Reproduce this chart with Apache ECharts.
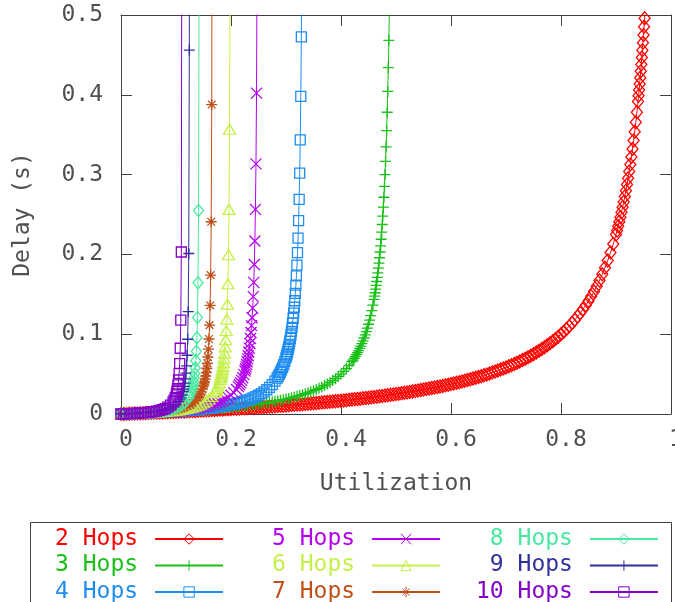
<!DOCTYPE html>
<html>
<head>
<meta charset="utf-8">
<script src="https://cdn.jsdelivr.net/npm/echarts@6/dist/echarts.min.js"></script>
<style>
html,body{margin:0;padding:0;background:#fff;}
#chart{width:675px;height:602px;}
</style>
</head>
<body>
<div id="chart"></div>
<script>
// [utilization, delay (s)]
const hops2 = [[0,0],[0.005,0.00013],[0.01,0.00025],[0.015,0.00038],[0.02,0.00051],[0.025,0.00064],[0.03,0.00077],[0.035,0.00091],[0.04,0.00104],[0.045,0.00118],[0.05,0.00132],[0.055,0.00146],[0.06,0.0016],[0.065,0.00174],[0.07,0.00188],[0.075,0.00203],[0.08,0.00217],[0.085,0.00232],[0.09,0.00247],[0.095,0.00262],[0.1,0.00278],[0.105,0.00293],[0.11,0.00309],[0.115,0.00325],[0.12,0.00341],[0.125,0.00357],[0.13,0.00374],[0.135,0.0039],[0.14,0.00407],[0.145,0.00424],[0.15,0.00441],[0.155,0.00459],[0.16,0.00476],[0.165,0.00494],[0.17,0.00512],[0.175,0.0053],[0.18,0.00549],[0.185,0.00568],[0.19,0.00586],[0.195,0.00606],[0.2,0.00625],[0.205,0.00645],[0.21,0.00665],[0.215,0.00685],[0.22,0.00705],[0.225,0.00726],[0.23,0.00747],[0.235,0.00768],[0.24,0.00789],[0.245,0.00811],[0.25,0.00833],[0.255,0.00856],[0.26,0.00878],[0.265,0.00901],[0.27,0.00925],[0.275,0.00948],[0.28,0.00972],[0.285,0.00997],[0.29,0.01021],[0.295,0.01046],[0.3,0.01071],[0.305,0.01097],[0.31,0.01123],[0.315,0.0115],[0.32,0.01176],[0.325,0.01204],[0.33,0.01231],[0.335,0.01259],[0.34,0.01288],[0.345,0.01317],[0.35,0.01346],[0.355,0.01376],[0.36,0.01406],[0.365,0.01437],[0.37,0.01468],[0.375,0.015],[0.38,0.01532],[0.385,0.01565],[0.39,0.01598],[0.395,0.01632],[0.4,0.01667],[0.405,0.01702],[0.41,0.01737],[0.415,0.01774],[0.42,0.0181],[0.425,0.01848],[0.43,0.01886],[0.435,0.01925],[0.44,0.01964],[0.445,0.02005],[0.45,0.02045],[0.455,0.02087],[0.46,0.0213],[0.465,0.02173],[0.47,0.02217],[0.475,0.02262],[0.48,0.02308],[0.485,0.02354],[0.49,0.02402],[0.495,0.02451],[0.5,0.025],[0.505,0.02551],[0.51,0.02602],[0.515,0.02655],[0.52,0.02708],[0.525,0.02763],[0.53,0.02819],[0.535,0.02876],[0.54,0.02935],[0.545,0.02995],[0.55,0.03056],[0.555,0.03118],[0.56,0.03182],[0.565,0.03247],[0.57,0.03314],[0.575,0.03382],[0.58,0.03452],[0.585,0.03524],[0.59,0.03598],[0.595,0.03673],[0.6,0.0375],[0.605,0.03829],[0.61,0.0391],[0.615,0.03994],[0.62,0.04079],[0.625,0.04167],[0.63,0.04257],[0.635,0.04349],[0.64,0.04444],[0.645,0.04542],[0.65,0.04643],[0.655,0.04746],[0.66,0.04853],[0.665,0.04963],[0.67,0.05076],[0.675,0.05192],[0.68,0.05313],[0.685,0.05437],[0.69,0.05565],[0.695,0.05697],[0.7,0.05833],[0.705,0.05975],[0.71,0.06121],[0.715,0.06272],[0.72,0.06429],[0.725,0.06591],[0.73,0.06759],[0.735,0.06934],[0.74,0.07115],[0.745,0.07304],[0.75,0.075],[0.755,0.07704],[0.76,0.07917],[0.765,0.08138],[0.77,0.0837],[0.775,0.08611],[0.78,0.08864],[0.785,0.09128],[0.79,0.09405],[0.795,0.09695],[0.8,0.1],[0.805,0.1032],[0.81,0.1066],[0.815,0.1101],[0.82,0.1139],[0.825,0.1179],[0.83,0.1221],[0.835,0.1265],[0.84,0.1313],[0.845,0.1363],[0.85,0.1417],[0.855,0.1474],[0.86,0.1536],[0.865,0.1602],[0.87,0.1673],[0.875,0.175],[0.88,0.1833],[0.885,0.1924],[0.89,0.2023],[0.895,0.2131],[0.9,0.225],[0.902,0.2301],[0.904,0.2354],[0.906,0.241],[0.908,0.2467],[0.91,0.2528],[0.912,0.2591],[0.914,0.2657],[0.916,0.2726],[0.918,0.2799],[0.92,0.2875],[0.922,0.2955],[0.924,0.3039],[0.926,0.3128],[0.928,0.3222],[0.93,0.3321],[0.932,0.3426],[0.934,0.3538],[0.936,0.3656],[0.938,0.3782],[0.94,0.3917],[0.941,0.3987],[0.942,0.406],[0.943,0.4136],[0.944,0.4214],[0.945,0.4295],[0.946,0.438],[0.947,0.4467],[0.948,0.4558],[0.949,0.4652],[0.95,0.475],[0.951,0.4852],[0.952,0.4958],[0.953,0.5069]];

const hops3 = [[0,0],[0.005,0.00013],[0.01,0.000255],[0.015,0.00039],[0.02,0.00052],[0.025,0.00066],[0.03,0.0008],[0.035,0.00094],[0.04,0.00109],[0.045,0.00124],[0.05,0.00139],[0.055,0.00155],[0.06,0.0017],[0.065,0.00187],[0.07,0.00203],[0.075,0.00221],[0.08,0.00238],[0.085,0.00256],[0.09,0.00274],[0.095,0.00293],[0.1,0.00313],[0.105,0.00332],[0.11,0.00353],[0.115,0.00373],[0.12,0.00395],[0.125,0.00417],[0.13,0.00439],[0.135,0.00462],[0.14,0.00486],[0.145,0.00511],[0.15,0.00536],[0.155,0.00562],[0.16,0.00588],[0.165,0.00616],[0.17,0.00644],[0.175,0.00673],[0.18,0.00703],[0.185,0.00734],[0.19,0.00766],[0.195,0.00799],[0.2,0.00833],[0.205,0.00869],[0.21,0.00905],[0.215,0.00943],[0.22,0.00982],[0.225,0.01023],[0.23,0.01065],[0.235,0.01109],[0.24,0.01154],[0.245,0.01201],[0.25,0.0125],[0.255,0.01301],[0.26,0.01354],[0.265,0.0141],[0.27,0.01467],[0.275,0.01528],[0.28,0.01591],[0.285,0.01657],[0.29,0.01726],[0.295,0.01799],[0.3,0.01875],[0.305,0.01955],[0.31,0.02039],[0.315,0.02128],[0.32,0.02222],[0.325,0.02321],[0.33,0.02426],[0.335,0.02538],[0.34,0.02656],[0.345,0.02782],[0.35,0.02917],[0.355,0.0306],[0.36,0.03214],[0.365,0.0338],[0.37,0.03558],[0.375,0.0375],[0.38,0.03958],[0.385,0.04185],[0.39,0.04432],[0.395,0.04702],[0.4,0.05],[0.405,0.05329],[0.41,0.05694],[0.415,0.06103],[0.42,0.06563],[0.422,0.06763],[0.424,0.06974],[0.426,0.07196],[0.428,0.07431],[0.43,0.07679],[0.432,0.07941],[0.434,0.0822],[0.436,0.08516],[0.438,0.08831],[0.44,0.09167],[0.442,0.09526],[0.444,0.09911],[0.446,0.10324],[0.448,0.10769],[0.45,0.1125],[0.452,0.11771],[0.454,0.12337],[0.456,0.12955],[0.458,0.13631],[0.46,0.14375],[0.461,0.14776],[0.462,0.15197],[0.463,0.15642],[0.464,0.16111],[0.465,0.16607],[0.466,0.17132],[0.467,0.17689],[0.468,0.18281],[0.469,0.18911],[0.47,0.19583],[0.471,0.20302],[0.472,0.21071],[0.473,0.21898],[0.474,0.22788],[0.475,0.2375],[0.476,0.24792],[0.477,0.25924],[0.478,0.27159],[0.479,0.28512],[0.48,0.3],[0.481,0.31645],[0.482,0.33472],[0.483,0.35515],[0.484,0.37813],[0.485,0.40417],[0.486,0.43393],[0.487,0.46827],[0.488,0.50833]];

const hops4 = [[0,0],[0.01,0.00024],[0.02,0.0005],[0.03,0.00077],[0.04,0.00107],[0.05,0.00138],[0.06,0.00172],[0.07,0.00208],[0.08,0.00247],[0.09,0.0029],[0.1,0.00336],[0.105,0.0036],[0.11,0.00386],[0.115,0.00413],[0.12,0.00441],[0.125,0.0047],[0.13,0.00501],[0.135,0.00533],[0.14,0.00567],[0.145,0.00603],[0.15,0.00641],[0.155,0.00681],[0.16,0.00723],[0.165,0.00768],[0.17,0.00815],[0.175,0.00866],[0.18,0.0092],[0.185,0.0098],[0.19,0.0104],[0.195,0.011],[0.2,0.01175],[0.205,0.0125],[0.21,0.0133],[0.215,0.0142],[0.22,0.0152],[0.225,0.0163],[0.23,0.0174],[0.235,0.0187],[0.24,0.0201],[0.245,0.0217],[0.25,0.0235],[0.255,0.0255],[0.26,0.0278],[0.265,0.0304],[0.27,0.0334],[0.275,0.0369],[0.28,0.0411],[0.2839,0.045],[0.2859,0.0472],[0.2879,0.0496],[0.2899,0.0523],[0.2919,0.0552],[0.2939,0.0584],[0.2959,0.0619],[0.2979,0.0659],[0.2999,0.0703],[0.3009,0.0727],[0.3019,0.0752],[0.3029,0.078],[0.3039,0.0809],[0.3049,0.084],[0.3059,0.0873],[0.3069,0.0909],[0.3079,0.0948],[0.3089,0.099],[0.3099,0.1036],[0.3109,0.1086],[0.3119,0.114],[0.3129,0.12],[0.3139,0.1265],[0.3149,0.1338],[0.3159,0.1419],[0.3169,0.1511],[0.3179,0.1614],[0.3189,0.1731],[0.3199,0.1865],[0.3209,0.2022],[0.3219,0.2205],[0.3229,0.2424],[0.3239,0.269],[0.3249,0.3018],[0.3259,0.3434],[0.3269,0.398],[0.3279,0.4727],[0.3289,0.5811]];

const hops5 = [[0,0],[0.01,0.00024],[0.02,0.00051],[0.03,0.0008],[0.04,0.00112],[0.05,0.00147],[0.06,0.00186],[0.07,0.00228],[0.08,0.00276],[0.09,0.0033],[0.1,0.00392],[0.105,0.00425],[0.11,0.00462],[0.115,0.005],[0.12,0.00542],[0.125,0.00588],[0.13,0.00636],[0.135,0.0069],[0.14,0.00748],[0.145,0.00811],[0.15,0.00881],[0.155,0.00959],[0.16,0.01044],[0.165,0.0114],[0.17,0.0125],[0.175,0.0137],[0.18,0.0151],[0.185,0.0167],[0.19,0.0186],[0.195,0.0208],[0.2,0.0235],[0.205,0.0268],[0.21,0.0308],[0.2134,0.0343],[0.2154,0.0366],[0.2174,0.0392],[0.2194,0.0421],[0.2214,0.0455],[0.2234,0.0493],[0.2254,0.0538],[0.2264,0.0564],[0.2274,0.0591],[0.2284,0.0621],[0.2294,0.0654],[0.2304,0.0691],[0.2314,0.0731],[0.2324,0.0776],[0.2334,0.0826],[0.2344,0.0883],[0.2354,0.0947],[0.2364,0.1021],[0.2374,0.1107],[0.2384,0.1207],[0.2394,0.1327],[0.2404,0.1471],[0.2414,0.1649],[0.2424,0.1874],[0.2434,0.2167],[0.2444,0.2564],[0.2454,0.3134],[0.2464,0.4021],[0.2474,0.559]];

const hops6 = [[0,0],[0.01,0.00025],[0.02,0.00052],[0.03,0.00083],[0.04,0.00118],[0.05,0.00157],[0.06,0.00201],[0.07,0.00253],[0.08,0.00313],[0.09,0.00385],[0.1,0.0047],[0.105,0.0052],[0.11,0.00574],[0.115,0.00636],[0.12,0.00705],[0.125,0.00783],[0.13,0.00873],[0.135,0.00976],[0.14,0.011],[0.145,0.0124],[0.15,0.0141],[0.155,0.0162],[0.16,0.0188],[0.165,0.0222],[0.1704,0.0271],[0.1724,0.0294],[0.1744,0.032],[0.1764,0.0351],[0.1784,0.0388],[0.1804,0.0433],[0.1814,0.0458],[0.1824,0.0487],[0.1834,0.0519],[0.1844,0.0556],[0.1854,0.0597],[0.1864,0.0644],[0.1874,0.0699],[0.1884,0.0763],[0.1894,0.084],[0.1904,0.0932],[0.1914,0.1046],[0.1924,0.119],[0.1934,0.1377],[0.1944,0.1632],[0.1954,0.1996],[0.1964,0.2564],[0.1974,0.3568],[0.1984,0.5828]];

const hops7 = [[0,0],[0.01,0.00025],[0.02,0.00053],[0.03,0.00086],[0.04,0.00124],[0.05,0.00168],[0.06,0.0022],[0.07,0.00284],[0.08,0.00362],[0.085,0.00408],[0.09,0.0046],[0.095,0.00519],[0.1,0.00588],[0.105,0.00667],[0.11,0.0076],[0.115,0.00872],[0.12,0.0101],[0.125,0.0118],[0.13,0.0139],[0.135,0.0167],[0.14,0.0206],[0.142,0.0225],[0.144,0.0249],[0.146,0.0277],[0.148,0.0311],[0.15,0.0353],[0.151,0.0378],[0.152,0.0406],[0.153,0.0438],[0.154,0.0476],[0.155,0.052],[0.156,0.0573],[0.157,0.0636],[0.158,0.0714],[0.159,0.0812],[0.16,0.094],[0.161,0.1113],[0.162,0.136],[0.163,0.1741],[0.164,0.2409],[0.165,0.3878],[0.166,0.9753]];

const hops8 = [[0,0],[0.01,0.00025],[0.02,0.00055],[0.03,0.00089],[0.04,0.00131],[0.05,0.00181],[0.06,0.00243],[0.07,0.00323],[0.075,0.00371],[0.08,0.00427],[0.085,0.00493],[0.09,0.00572],[0.095,0.00666],[0.1,0.00783],[0.105,0.0093],[0.11,0.0112],[0.115,0.0139],[0.12,0.0176],[0.123,0.0208],[0.125,0.0235],[0.127,0.0269],[0.129,0.0313],[0.13,0.0339],[0.131,0.0371],[0.132,0.0408],[0.133,0.0453],[0.134,0.0508],[0.135,0.0577],[0.136,0.0666],[0.137,0.0785],[0.138,0.0954],[0.139,0.121],[0.14,0.1645],[0.141,0.2549],[0.142,0.5562]];

const hops9 = [[0,0],[0.01,0.00026],[0.02,0.00056],[0.03,0.00093],[0.04,0.00138],[0.05,0.00196],[0.06,0.00271],[0.065,0.00318],[0.07,0.00374],[0.075,0.00441],[0.08,0.00522],[0.085,0.00624],[0.09,0.00755],[0.095,0.0093],[0.1,0.01175],[0.105,0.0154],[0.1072,0.0177],[0.1092,0.0203],[0.1112,0.0237],[0.1132,0.0282],[0.1142,0.0311],[0.1152,0.0345],[0.1162,0.0388],[0.1172,0.0441],[0.1182,0.0511],[0.1192,0.0604],[0.1202,0.0736],[0.1212,0.0937],[0.1222,0.1282],[0.1232,0.2011],[0.1242,0.456],[0.1247,1.221]];

const hops10 = [[0,0],[0.005,0.00012],[0.01,0.00026],[0.015,0.00041],[0.02,0.00057],[0.025,0.00076],[0.03,0.00097],[0.035,0.0012],[0.04,0.00147],[0.045,0.00178],[0.05,0.00214],[0.055,0.00256],[0.06,0.00307],[0.065,0.00368],[0.07,0.00445],[0.075,0.00542],[0.08,0.00671],[0.085,0.0085],[0.09,0.0111],[0.0947,0.0151],[0.0967,0.0175],[0.0987,0.0208],[0.1007,0.0253],[0.1017,0.0282],[0.1027,0.0319],[0.1037,0.0365],[0.1047,0.0426],[0.1057,0.051],[0.1067,0.0632],[0.1077,0.0824],[0.1087,0.1177],[0.1097,0.203],[0.1107,0.7031]];

const seriesNames = ['2 Hops','3 Hops','4 Hops','5 Hops','6 Hops','7 Hops','8 Hops','9 Hops','10 Hops'];
const seriesData = [hops2, hops3, hops4, hops5, hops6, hops7, hops8, hops9, hops10];
const xTicks = {min: 0, max: 1, interval: 0.2};
const yTicks = {min: 0, max: 0.5, interval: 0.1};

const colors = ['#ff0000','#18c018','#1e8cf0','#b400f0','#c4f048','#c05018','#48e8a0','#30309e','#8400c8'];
const PLUS = 'path://M0,5L10,5M5,0L5,10';
const CROSS = 'path://M0,0L10,10M10,0L0,10';
const STAR = 'path://M0,5L10,5M5,0L5,10M1.5,1.5L8.5,8.5M8.5,1.5L1.5,8.5';
const symbols = ['diamond', PLUS, 'rect', CROSS, 'triangle', STAR, 'diamond', PLUS, 'rect'];
const symbolSizes = [[11,13],[11,11],[10,10],[11,11],[12,10],[11,11],[10,12],[11,11],[10,10]];

const FONT = 'DejaVu Sans Mono';
const TXT = '#505050';
const AX = '#404040';

const series = seriesNames.map((name, i) => ({
  name: name,
  type: 'line',
  data: seriesData[i],
  symbol: symbols[i],
  symbolSize: symbolSizes[i],
  showSymbol: true,
  showAllSymbol: true,
  clip: true,
  lineStyle: {color: colors[i], width: 1},
  itemStyle: {color: 'transparent', borderColor: colors[i], borderWidth: 1.3},
  emphasis: {disabled: true},
  animation: false
}));

function legendBlock(names, left, colorOffset) {
  return {
    orient: 'vertical',
    align: 'right',
    left: left,
    top: 526,
    height: 120,
    padding: 0,
    itemGap: 0.5,
    itemWidth: 68,
    itemHeight: 13,
    selectedMode: false,
    itemStyle: {borderWidth: 1},
    textStyle: {fontFamily: FONT, fontSize: 23, lineHeight: 26, padding: [0, 12, 0, 0]},
    data: names.map((n, k) => ({name: n, textStyle: {color: colors[colorOffset + k]}}))
  };
}

const chart = echarts.init(document.getElementById('chart'), null, {renderer: 'canvas'});
chart.setOption({
  backgroundColor: '#fff',
  animation: false,
  grid: {left: 121, top: 15, width: 550, height: 399, outerBoundsMode: 'none', containLabel: false},
  xAxis: [{
    type: 'value', min: xTicks.min, max: xTicks.max, interval: xTicks.interval, position: 'bottom',
    axisLine: {show: true, onZero: false, lineStyle: {color: AX, width: 1}},
    axisTick: {show: true, inside: true, length: 11, lineStyle: {color: AX}},
    axisLabel: {show: true, margin: 15, color: TXT, fontFamily: FONT, fontSize: 23, padding: [0, 0, 0, 10]},
    splitLine: {show: false},
    name: 'Utilization', nameLocation: 'middle', nameGap: 59,
    nameTextStyle: {color: TXT, fontFamily: FONT, fontSize: 23}
  }, {
    type: 'value', min: xTicks.min, max: xTicks.max, interval: xTicks.interval, position: 'top',
    axisLine: {show: true, onZero: false, lineStyle: {color: AX, width: 1}},
    axisTick: {show: true, inside: true, length: 11, lineStyle: {color: AX}},
    axisLabel: {show: false}, splitLine: {show: false}
  }],
  yAxis: [{
    type: 'value', min: yTicks.min, max: yTicks.max, interval: yTicks.interval, position: 'left',
    axisLine: {show: true, onZero: false, lineStyle: {color: AX, width: 1}},
    axisTick: {show: true, inside: true, length: 11, lineStyle: {color: AX}},
    axisLabel: {show: true, margin: 18, color: TXT, fontFamily: FONT, fontSize: 23, padding: [4, 0, 0, 0]},
    splitLine: {show: false},
    name: 'Delay (s)', nameLocation: 'middle', nameGap: 86,
    nameTextStyle: {color: TXT, fontFamily: FONT, fontSize: 23}
  }, {
    type: 'value', min: yTicks.min, max: yTicks.max, interval: yTicks.interval, position: 'right',
    axisLine: {show: true, onZero: false, lineStyle: {color: AX, width: 1}},
    axisTick: {show: true, inside: true, length: 11, lineStyle: {color: AX}},
    axisLabel: {show: false}, splitLine: {show: false}
  }],
  legend: [
    legendBlock(seriesNames.slice(0, 3), 55, 0),
    legendBlock(seriesNames.slice(3, 6), 272, 3),
    legendBlock(seriesNames.slice(6, 9), 476, 6)
  ],
  graphic: [{
    type: 'rect', silent: true,
    shape: {x: 30.5, y: 522.5, width: 641, height: 100},
    style: {fill: 'none', stroke: AX, lineWidth: 1}
  }],
  series: series
});
</script>
</body>
</html>
